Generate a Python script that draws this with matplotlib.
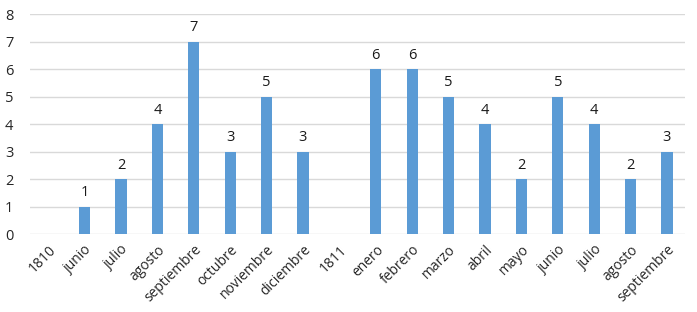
import matplotlib
matplotlib.use("Agg")
import matplotlib.pyplot as plt
import numpy as np

categories = ["1810", "junio", "julio", "agosto", "septiembre", "octubre", "noviembre",
              "diciembre", "1811", "enero", "febrero", "marzo", "abril", "mayo", "junio",
              "julio", "agosto", "septiembre"]
values = [None, 1, 2, 4, 7, 3, 5, 3, None, 6, 6, 5, 4, 2, 5, 4, 2, 3]
yticks = [0, 1, 2, 3, 4, 5, 6, 7, 8]

plt.rcParams['font.family'] = ['Open Sans', 'DejaVu Sans']

fig = plt.figure(figsize=(6.97, 3.12), dpi=100)
ax = fig.add_axes([0.043, 0.25, 0.940, 0.705])

x = np.arange(len(categories))
vals = np.array([np.nan if v is None else v for v in values], dtype=float)
ax.bar(x, np.nan_to_num(vals), width=0.31, color="#5b9bd5", zorder=3)
for xi, v in zip(x, values):
    if v is not None:
        ax.text(xi, v + 0.22, str(v), ha="center", va="bottom", fontsize=10.5, color="#1a1a1a")

ax.set_xlim(-0.5, len(categories) - 0.5)
ax.set_ylim(0, 8)
ax.set_yticks(yticks)
ax.set_yticklabels([str(t) for t in yticks], fontsize=10.5, color="#262626")
ax.set_xticks(x)
ax.set_xticklabels(categories, rotation=45, ha="right", rotation_mode="anchor",
                   fontsize=10, color="#262626")
ax.grid(axis="y", color="#d9d9d9", linewidth=1, zorder=0)
for s in ["top", "right", "left", "bottom"]:
    ax.spines[s].set_visible(False)
ax.tick_params(axis="both", length=0)
ax.tick_params(axis="x", pad=6)
ax.tick_params(axis="y", pad=12)

fig.savefig("out.png", dpi=100)
